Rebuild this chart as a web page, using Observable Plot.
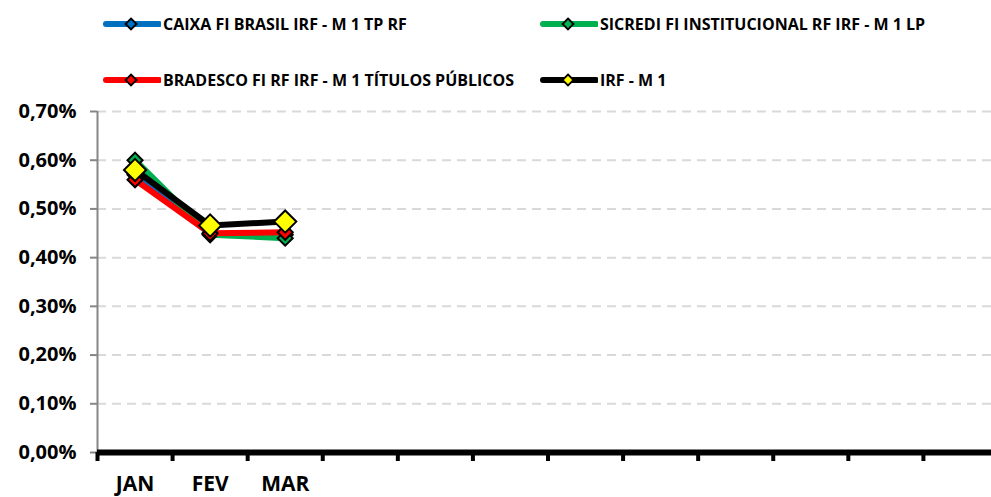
<!DOCTYPE html>
<html>
<head>
<meta charset="utf-8">
<script src="https://cdn.jsdelivr.net/npm/d3@7"></script>
<script src="https://cdn.jsdelivr.net/npm/@observablehq/plot@0.6"></script>
<style>
  body { margin: 0; background: #fff; font-family: "Open Sans", sans-serif; }
  #legend { position: relative; width: 991px; height: 96px; }
  .item { position: absolute; display: flex; align-items: center; font-weight: bold; font-size: 16px; color: #000; white-space: nowrap; }
  .item svg { display: block; margin-right: 2px; }
</style>
</head>
<body>
<div id="legend"></div>
<div id="chart"></div>
<script>
const months = ["JAN","FEV","MAR","ABR","MAI","JUN","JUL","AGO","SET","OUT","NOV","DEZ"];
const labeledMonths = ["JAN","FEV","MAR"];
const seriesNames = [
  "CAIXA FI BRASIL IRF - M 1 TP RF",
  "SICREDI FI INSTITUCIONAL RF IRF - M 1 LP",
  "BRADESCO FI RF IRF - M 1 TÍTULOS PÚBLICOS",
  "IRF - M 1"
];
const caixa    = [0.570, 0.449, 0.447];
const sicredi  = [0.600, 0.447, 0.440];
const bradesco = [0.560, 0.450, 0.452];
const irfm1    = [0.580, 0.466, 0.474];
const lineColors   = ["#0070C0", "#00B050", "#FF0000", "#000000"];
const markerColors = ["#0070C0", "#00B050", "#FF0000", "#FFFF00"];
const yTicks = [0, 0.1, 0.2, 0.3, 0.4, 0.5, 0.6, 0.7];

const allValues = [caixa, sicredi, bradesco, irfm1];
const rows = [];
allValues.forEach((vals, s) => vals.forEach((v, i) => rows.push({series: seriesNames[s], s, month: months[i], x: i + 0.5, y: v})));

// Legend
const legend = document.getElementById("legend");
const legendPos = [[103, 24], [540, 24], [103, 80], [540, 80]];
seriesNames.forEach((name, s) => {
  const div = document.createElement("div");
  div.className = "item";
  div.style.left = legendPos[s][0] + "px";
  div.style.top = (legendPos[s][1] - 11) + "px";
  div.style.height = "22px";
  div.innerHTML = `<svg width="58" height="22"><line x1="3" y1="11" x2="56" y2="11" stroke="${lineColors[s]}" stroke-width="6" stroke-linecap="round"/><path d="M28,5.5 L33.5,11 L28,16.5 L22.5,11 Z" fill="${markerColors[s]}" stroke="#000" stroke-width="1.8"/></svg><span>${name}</span>`;
  legend.appendChild(div);
});

const fmt = d => d.toFixed(2).replace(".", ",") + "%";

const marks = [
  Plot.ruleY(yTicks.filter(d => d > 0), {stroke: "#d9d9d9", strokeWidth: 2, strokeDasharray: "9,6"}),
  Plot.ruleX([0], {y1: 0, y2: 0.7, stroke: "#868686", strokeWidth: 2}),
  Plot.axisY({ticks: yTicks, tickFormat: fmt, label: null, tickSize: 7, tickPadding: 14, stroke: "#868686", fill: "#000", fontSize: 20, fontWeight: "bold", strokeWidth: 2}),
  Plot.axisX({ticks: d3.range(12), tickFormat: () => "", label: null, tickSize: 9, stroke: "#000", strokeWidth: 4}),
  Plot.ruleY([0], {stroke: "#000", strokeWidth: 6}),
  Plot.text(labeledMonths, {x: (d, i) => i + 0.5, y: 0, dy: 32, text: d => d, fontSize: 21, fontWeight: "bold", fill: "#000"})
];
seriesNames.forEach((name, s) => {
  const data = rows.filter(r => r.s === s);
  marks.push(Plot.line(data, {x: "x", y: "y", stroke: lineColors[s], strokeWidth: 6, strokeLinejoin: "round"}));
  marks.push(Plot.dot(data, {x: "x", y: "y", symbol: "diamond2", r: s === 3 ? 10 : 6.8, fill: markerColors[s], stroke: "#000", strokeWidth: 2}));
});

const chart = Plot.plot({
  width: 991,
  height: 401,
  marginLeft: 97,
  marginRight: 0,
  marginTop: 15,
  marginBottom: 45,
  style: {fontFamily: "'Open Sans', sans-serif", background: "#fff", overflow: "visible"},
  x: {type: "linear", domain: [0, 12], range: [97, 998], axis: null},
  y: {domain: [0, 0.7], axis: null},
  marks
});
document.getElementById("chart").appendChild(chart);
</script>
</body>
</html>
